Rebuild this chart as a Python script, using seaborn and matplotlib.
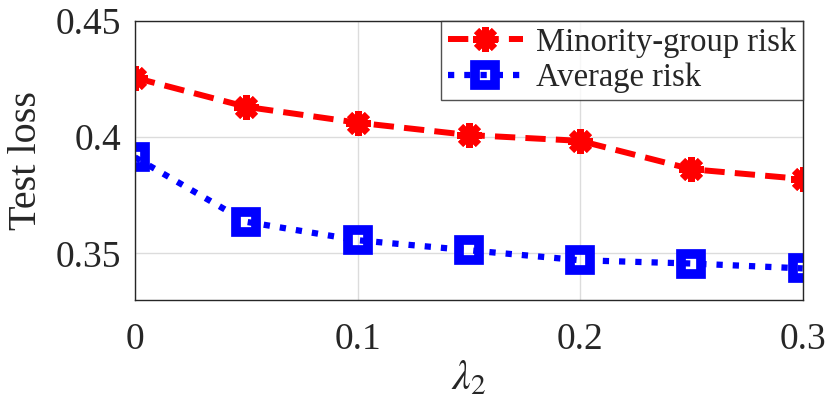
import pandas as pd
import matplotlib
matplotlib.use("Agg")
import matplotlib.pyplot as plt
import seaborn as sns

sns.set_style("whitegrid")
plt.rcParams['font.family'] = ['Liberation Serif', 'DejaVu Serif']
plt.rcParams['mathtext.fontset'] = 'stix'

# values
lambda2 = [0, 0.05, 0.1, 0.15, 0.2, 0.25, 0.3]
minority_risk = [0.4255, 0.413, 0.4062, 0.4009, 0.3984, 0.3862, 0.382]
average_risk = [0.3913, 0.3636, 0.3557, 0.3514, 0.3471, 0.3457, 0.3436]
x_ticks = [0, 0.1, 0.2, 0.3]
x_tick_labels = ["0", "0.1", "0.2", "0.3"]
y_ticks = [0.35, 0.4, 0.45]
y_tick_labels = ["0.35", "0.4", "0.45"]

df = pd.DataFrame({"lambda2": lambda2, "minority": minority_risk, "average": average_risk})

fig, ax = plt.subplots(figsize=(8.31, 4.15), dpi=100)
fig.subplots_adjust(left=0.1625, right=0.966, bottom=0.277, top=0.95)

sns.lineplot(data=df, x="lambda2", y="minority", ax=ax, color="#ff0000",
             linewidth=4.3, linestyle=(0, (3.4, 1.7)), marker=(8, 2, 0),
             markersize=18, markeredgewidth=5, markeredgecolor="#ff0000",
             label="Minority-group risk")
sns.lineplot(data=df, x="lambda2", y="average", ax=ax, color="#0000ff",
             linewidth=4.5, linestyle=(0, (1, 1.6)), marker="s",
             markersize=14, markeredgewidth=7, markerfacecolor="none",
             markeredgecolor="#0000ff", label="Average risk")

ax.set_xlim(0, 0.3)
ax.set_ylim(0.33, 0.45)
ax.set_xticks(x_ticks)
ax.set_xticklabels(x_tick_labels)
ax.set_yticks(y_ticks)
ax.set_yticklabels(y_tick_labels)
ax.tick_params(direction="in", length=5, labelsize=27, color="#262626", pad=16)
ax.tick_params(axis="y", pad=10)
ax.grid(True, color="#dcdcdc", linewidth=1)
for s in ax.spines.values():
    s.set_color("#262626")
    s.set_linewidth(1)
    s.set_visible(True)

ax.set_xlabel(r"$\lambda_2$", fontsize=30, labelpad=2)
ax.set_ylabel("Test loss", fontsize=29, labelpad=8)

leg = ax.legend(loc="upper right", fontsize=23.5, frameon=True, fancybox=False,
                borderpad=0.2, handlelength=2.3, handletextpad=0.4,
                labelspacing=0.15, borderaxespad=0)
leg.get_frame().set_edgecolor("#262626")
leg.get_frame().set_linewidth(1)

fig.savefig("out.png", dpi=100)
